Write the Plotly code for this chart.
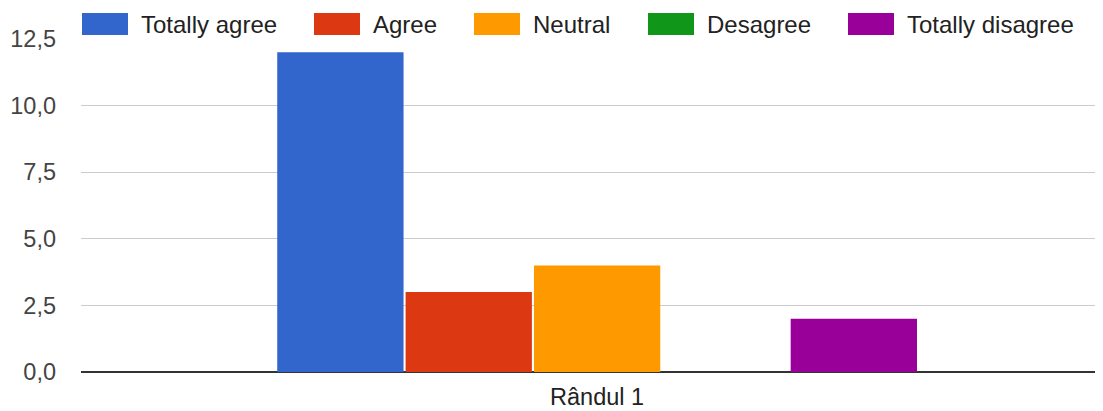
import plotly.graph_objects as go

categories = ["Rândul 1"]
series_names = ["Totally agree", "Agree", "Neutral", "Desagree", "Totally disagree"]
series_values = [12, 3, 4, 0, 2]
series_colors = ["#3366cc", "#dc3912", "#ff9900", "#109618", "#990099"]
y_ticks = [0, 2.5, 5, 7.5, 10, 12.5]

FONT = "Arial, Liberation Sans, sans-serif"

# the page puts the figure 8px in from the top-left corner
OFF = 8
PLOT_L, PLOT_R, PLOT_T, PLOT_B = 81, 1103, 39, 372
PW, PH = PLOT_R - PLOT_L, PLOT_B - PLOT_T

fig = go.Figure()
for name, val, col in zip(series_names, series_values, series_colors):
    fig.add_trace(go.Bar(x=categories, y=[val], name=name,
                         marker=dict(color=col, line=dict(width=0)),
                         showlegend=False))

# legend drawn by hand so the swatches match the large Google-style boxes
legend_x = [82, 314, 474, 648, 848]
for name, col, lx in zip(series_names, series_colors, legend_x):
    fig.add_shape(type="rect", xref="paper", yref="paper",
                  x0=(lx - PLOT_L) / PW, x1=(lx + 46 - PLOT_L) / PW,
                  y0=(PLOT_B - 35) / PH, y1=(PLOT_B - 13) / PH,
                  fillcolor=col, line=dict(width=0), layer="above")
    fig.add_annotation(xref="paper", yref="paper",
                       x=(lx + 57 - PLOT_L) / PW, y=(PLOT_B - 24) / PH,
                       xanchor="left", yanchor="middle", showarrow=False,
                       text=name,
                       font=dict(family=FONT, size=24, color="#222222",
                                 shadow="0px 0px 3px white"))

fig.update_layout(
    width=1103 - OFF, height=411 - OFF,
    margin=dict(l=PLOT_L - OFF, r=0, t=PLOT_T - OFF, b=411 - PLOT_B),
    paper_bgcolor="white", plot_bgcolor="white",
    separators=",.",
    barmode="group", bargap=0.372, bargroupgap=0.016,
    font=dict(family=FONT, size=23.5, color="#444444"),
)
fig.update_xaxes(range=[-0.505, 0.495], showgrid=False, showline=False,
                 ticklabelstandoff=8, tickfont=dict(color="#222222", size=23.5))
fig.update_yaxes(range=[0, 12.5], tickvals=y_ticks, tickformat=".1f",
                 gridcolor="#cccccc", gridwidth=1,
                 zeroline=True, zerolinecolor="#333333", zerolinewidth=2,
                 ticklabelstandoff=24, tickfont=dict(color="#444444", size=23.5))

fig.write_html("out.html")
